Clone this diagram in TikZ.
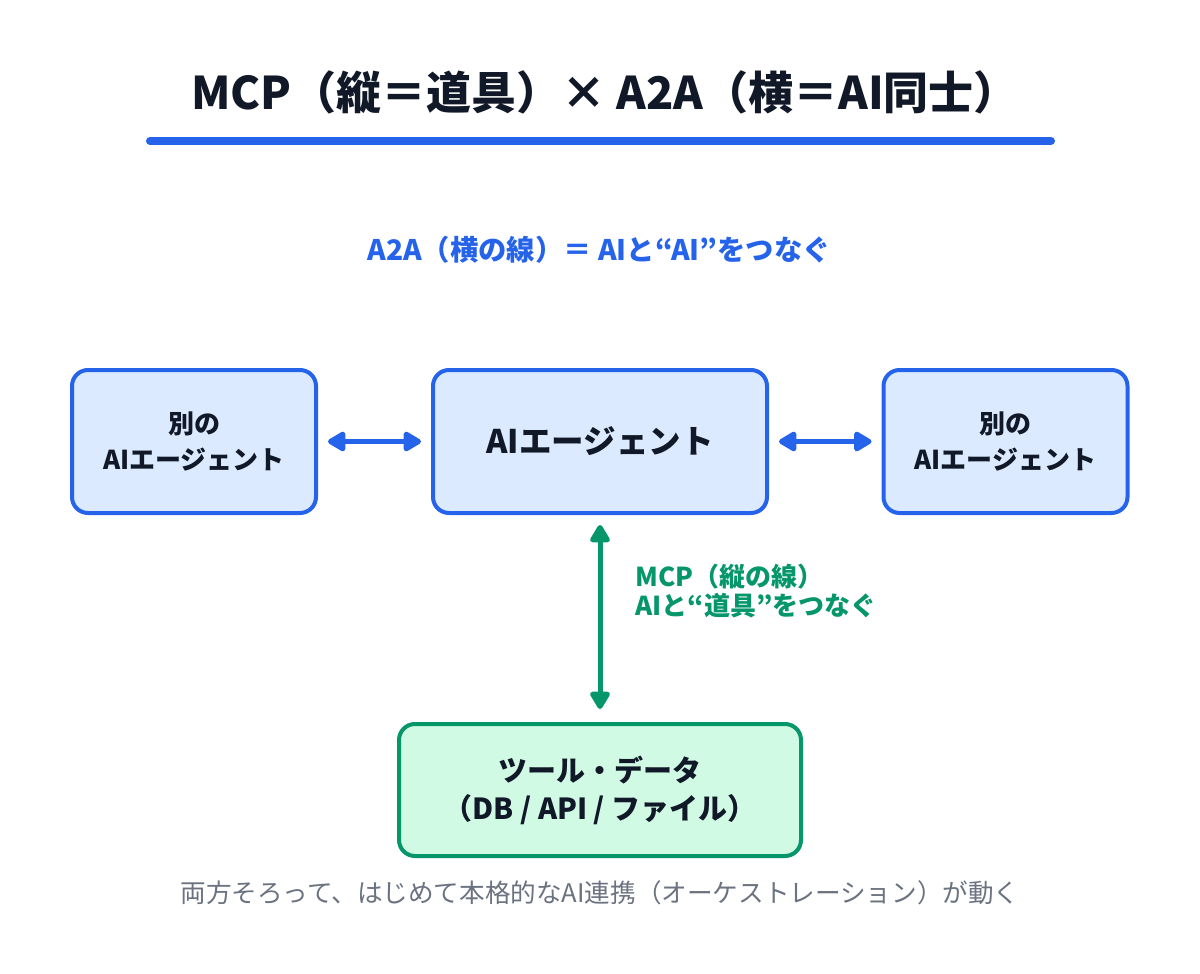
\documentclass[tikz,border=0pt]{standalone}
\usepackage{fontspec}
\setmainfont{Noto Sans CJK JP}
\usetikzlibrary{arrows.meta}

\definecolor{blau}{HTML}{2563EB}
\definecolor{blauhell}{HTML}{DBEAFE}
\definecolor{gruen}{HTML}{059669}
\definecolor{gruenhell}{HTML}{D1FAE5}
\definecolor{tinte}{HTML}{111827}
\definecolor{grau}{HTML}{6B7280}

\begin{document}
\begin{tikzpicture}[x=1pt, y=-1pt, >={Triangle[length=20pt, width=22pt, round]},
	agent/.style={draw=blau, fill=blauhell, line width=4pt, rounded corners=16pt,
		minimum width=244pt, minimum height=143pt, align=center, text=tinte,
		font=\fontsize{26}{36}\selectfont\bfseries},
	werkzeugbox/.style={draw=gruen, fill=gruenhell, line width=4pt, rounded corners=16pt,
		minimum width=402pt, minimum height=132pt, align=center, text=tinte,
		font=\fontsize{29}{38}\selectfont\bfseries},
	pfeil/.style={<->, line width=5pt, shorten <=10pt, shorten >=10pt}]
	
	% Rahmen
	\useasboundingbox (0,0) rectangle (1200,974);
	\fill[white] (0,0) rectangle (1200,974);
	
	% Titel
	\node[text=tinte, font=\fontsize{45}{50}\selectfont\bfseries] (titel) at (605,92)
		{MCP（縦＝道具）× A2A（横＝AI同士）};
	\draw[blau, line width=8pt, line cap=round] (150,141) -- (1051,141);
	
	% A2A = horizontale Verbindung
	\node[text=blau, font=\fontsize{28.3}{32}\selectfont\bfseries] (atoa) at (599,250)
		{A2A（横の線）＝ AIと“AI”をつなぐ};
	
	% Agenten
	\node[agent] (links) at (194,441.5) {別の\\AIエージェント};
	\node[agent, minimum width=334pt, font=\fontsize{32.5}{38}\selectfont\bfseries] (mitte) at (600,441.5) {AIエージェント};
	\node[agent] (rechts) at (1005.5,441.5) {別の\\AIエージェント};
	
	\draw[pfeil, blau] (links) -- (mitte);
	\draw[pfeil, blau] (mitte) -- (rechts);
	
	% Werkzeuge = vertikale Verbindung
	\node[werkzeugbox] (werkzeug) at (600,790) {ツール・データ\\（DB / API / ファイル）};
	\draw[pfeil, gruen, shorten >=13pt] (mitte) -- (werkzeug);
	\node[text=gruen, anchor=west, align=left, font=\fontsize{26}{29}\selectfont\bfseries] (mcp) at (632,591.5)
		{MCP（縦の線）\\AIと“道具”をつなぐ};
	
	% Fußzeile
	\node[text=grau, font=\fontsize{25.6}{30}\selectfont] (fuss) at (600,893)
		{両方そろって、はじめて本格的なAI連携（オーケストレーション）が動く};
\end{tikzpicture}
\end{document}
